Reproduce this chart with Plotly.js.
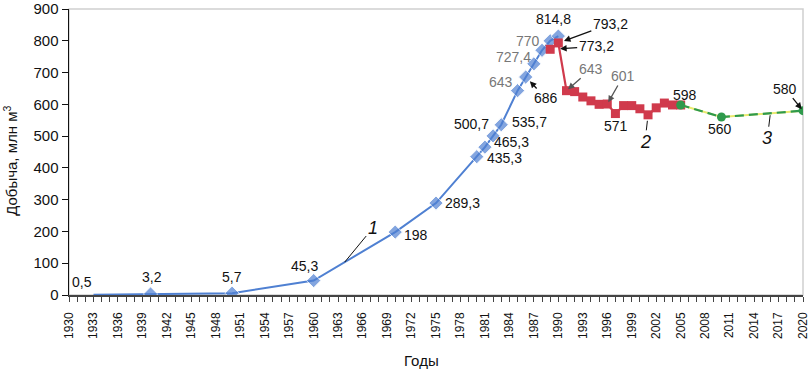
<!DOCTYPE html>
<html>
<head>
<meta charset="utf-8">
<script src="https://cdn.plot.ly/plotly-3.0.1.min.js"></script>
<style>html,body{margin:0;padding:0;background:#fff;}#chart{width:810px;height:374px;}</style>
</head>
<body>
<div id="chart"></div>
<script>
// ---- data ----
const blueYears = [1933, 1940, 1950, 1960, 1970, 1975, 1980, 1981, 1982, 1983, 1985, 1986, 1987, 1988, 1989, 1990];
const blueVals  = [0.5, 3.2, 5.7, 45.3, 198, 289.3, 435.3, 465.3, 500.7, 535.7, 643, 686, 727.4, 770, 800, 814.8];
const redYears  = [1989, 1990, 1991, 1992, 1993, 1994, 1995, 1996, 1997, 1998, 1999, 2000, 2001, 2002, 2003, 2004, 2005];
const redVals   = [773.2, 793.2, 643, 640, 623, 611, 600, 601, 571, 596, 596, 586, 567, 589, 604, 598, 598];
const greenYears = [2005, 2010, 2020];
const greenVals  = [598, 560, 580];
const xTickYears = [1930,1933,1936,1939,1942,1945,1948,1951,1954,1957,1960,1963,1966,1969,1972,1975,1978,1981,1984,1987,1990,1993,1996,1999,2002,2005,2008,2011,2014,2017,2020];
const yTickVals = [0,100,200,300,400,500,600,700,800,900];
const seriesNames = ['1', '2', '3'];

const fmt = v => String(v).replace('.', ',');
const FONT = 'Liberation Sans, Arial, sans-serif';
const BLUE = '#4f80d2', RED = '#d03a4c', GREEN = '#2f9a4c', GRAY = '#777777';

const traces = [
  {x: blueYears, y: blueVals, mode: 'lines+markers', type: 'scatter',
   line: {color: BLUE, width: 2},
   marker: {symbol: 'diamond', size: blueYears.map((_, i) => i === 0 ? 0 : 11), color: BLUE}},
  {x: redYears, y: redVals, mode: 'lines+markers', type: 'scatter',
   line: {color: RED, width: 2.2},
   marker: {symbol: 'square', size: 9, color: RED}},
  {x: greenYears, y: greenVals, mode: 'lines', type: 'scatter',
   line: {color: '#eaea70', width: 2}},
  {x: greenYears, y: greenVals, mode: 'lines+markers', type: 'scatter',
   line: {color: GREEN, width: 2.2, dash: '9px,5px'},
   marker: {symbol: 'circle', size: 9, color: GREEN}}
];

const ann = [];
function lab(xs, ys, i, dx, dy, color) {
  ann.push({x: xs[i], y: ys[i], text: fmt(ys[i]), showarrow: false, xshift: dx, yshift: dy,
            font: {family: FONT, size: 14, color: color || '#111'}});
}
function arr(xs, ys, i, ax, ay, standoff, color) {
  ann.push({x: xs[i], y: ys[i], text: fmt(ys[i]), showarrow: true, ax: ax, ay: ay,
            arrowhead: 2, arrowsize: 1, arrowwidth: 1.3, arrowcolor: color === GRAY ? '#555' : '#111', standoff: standoff,
            font: {family: FONT, size: 14, color: color || '#111'}});
}
lab(blueYears, blueVals, 0, -11, 13);
lab(blueYears, blueVals, 1, 1, 17);
lab(blueYears, blueVals, 2, 0, 16);
lab(blueYears, blueVals, 3, -9, 15);
lab(blueYears, blueVals, 4, 21, -3);
lab(blueYears, blueVals, 5, 26, 0);
lab(blueYears, blueVals, 6, 28, -1);
lab(blueYears, blueVals, 7, 27, 5);
lab(blueYears, blueVals, 8, -22, 12);
lab(blueYears, blueVals, 9, 28, 3);
lab(blueYears, blueVals, 10, -17, 9, GRAY);
arr(blueYears, blueVals, 11, 20, 21, 6);
lab(blueYears, blueVals, 12, -20, 7, GRAY);
lab(blueYears, blueVals, 13, -14, 9, GRAY);
lab(blueYears, blueVals, 15, -5, 17);
arr(redYears, redVals, 1, 52, -19, 6);
arr(redYears, redVals, 0, 46, -3, 10);
arr(redYears, redVals, 2, 25, -22, 2, GRAY);
arr(redYears, redVals, 7, 16, -28, 2, GRAY);
lab(redYears, redVals, 8, 1, -12);
lab(greenYears, greenVals, 0, 4, 10);
lab(greenYears, greenVals, 1, -1, -12);
arr(greenYears, greenVals, 2, -18, -22, 2);

// series number labels with leader lines
const numLabel = (x, y, text, ax, ay, standoff) => ann.push({
  x: x, y: y, text: '<i>' + text + '</i>', showarrow: true, arrowhead: 0, arrowwidth: 1, arrowcolor: '#111',
  ax: ax, ay: ay, standoff: standoff, font: {family: FONT, size: 18, color: '#111'}});
numLabel(1963.8, 45.3 + (198 - 45.3) * 0.38, seriesNames[0], 28, -34, 0);
numLabel(redYears[12], redVals[12], seriesNames[1], -3, 27, 6);
numLabel(2016, greenVals[1] + (greenVals[2] - greenVals[1]) * 0.6, seriesNames[2], -3, 25, 2);

// axis titles
ann.push({xref: 'paper', yref: 'paper', x: 0.48, y: -0.23, yanchor: 'middle', xanchor: 'center',
  text: 'Годы', showarrow: false, font: {family: FONT, size: 15, color: '#111'}});
ann.push({xref: 'paper', yref: 'paper', x: -0.08, y: 0.47, xanchor: 'center', yanchor: 'middle', textangle: -90,
  text: 'Добыча, млн м<sup>3</sup>', showarrow: false, font: {family: FONT, size: 15, color: '#111'}});

const layout = {
  width: 810, height: 374,
  margin: {l: 69, r: 7, t: 9, b: 79},
  paper_bgcolor: '#fff', plot_bgcolor: '#fff',
  showlegend: false,
  font: {family: FONT, color: '#111'},
  xaxis: {range: [1930, 2020], tickvals: xTickYears, ticktext: xTickYears.map(String), tickangle: -90,
          ticks: 'outside', ticklen: 5, tickcolor: '#444', showline: true, linecolor: '#444', linewidth: 1.5,
          showgrid: false, zeroline: false, tickfont: {family: FONT, size: 12, color: '#111'},
          ticklabeloverflow: 'allow', ticklabelstandoff: 6,
          minor: {dtick: 1, tick0: 1930, ticks: 'outside', ticklen: 5, tickcolor: '#444', showgrid: false}},
  yaxis: {range: [0, 900], tickvals: yTickVals, ticks: 'outside', ticklen: 6, tickcolor: '#111',
          showline: true, linecolor: '#111', linewidth: 1.5, showgrid: false, zeroline: false,
          ticklabeloverflow: 'allow',
          tickfont: {family: FONT, size: 15, color: '#111'}},
  shapes: [{type: 'rect', xref: 'paper', yref: 'paper', x0: 0, x1: 1, y0: 0, y1: 1,
            line: {color: '#cfcfcf', width: 1.5}, layer: 'below'}],
  annotations: ann
};

Plotly.newPlot('chart', traces, layout, {staticPlot: true, displayModeBar: false});
</script>
</body>
</html>
